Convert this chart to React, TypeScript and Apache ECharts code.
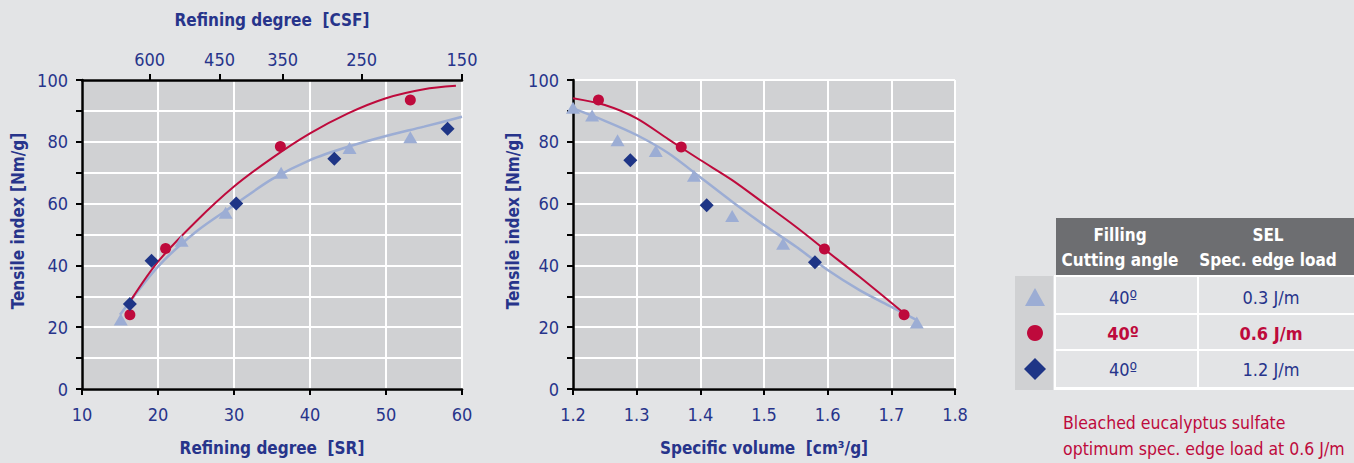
import React, { useEffect, useRef } from "react";
import * as echarts from "echarts";

// ---------- data ----------
const srTicks = [10, 20, 30, 40, 50, 60];
const csfLabels = ["600", "450", "350", "250", "150"];
const csfAtSR = [18.9, 28.1, 36.4, 46.8, 60];

// left chart: SR vs tensile index
const leftTriSR = [15.1, 23.1, 28.9, 36.2, 45.2, 53.2, 60.1];
const leftTriT = [22.5, 48, 57, 70, 78, 81.5, 88.5];
const leftCircSR = [16.3, 21.0, 36.1, 53.2];
const leftCircT = [24, 45.5, 78.5, 93.5];
const leftDiaSR = [16.3, 19.15, 30.3, 43.2, 58.1];
const leftDiaT = [27.5, 41.5, 60, 74.5, 84.2];
const leftRedFitSR = [16.5, 20, 25, 30, 35, 40, 45, 50, 55, 59.2];
const leftRedFitT = [29, 41.2, 54.2, 65.5, 74.7, 82.7, 89.2, 94.1, 97, 98.1];
const leftBlueFitSR = [15, 20, 25, 30, 35, 40, 45, 50, 55, 60];
const leftBlueFitT = [24, 39.6, 50.9, 59.5, 67.9, 74.1, 78.4, 81.9, 84.9, 88.1];

// right chart: specific volume vs tensile index
const rightTriV = [1.2, 1.23, 1.27, 1.33, 1.39, 1.45, 1.53, 1.74];
const rightTriT = [91, 88.5, 80.5, 77, 69, 56, 47, 21.5];
const rightCircV = [1.24, 1.37, 1.595, 1.72];
const rightCircT = [93.5, 78.3, 45.3, 24];
const rightDiaV = [1.29, 1.41, 1.58];
const rightDiaT = [74, 59.5, 41];
const rightRedFitV = [1.2, 1.25, 1.3, 1.35, 1.4, 1.45, 1.5, 1.55, 1.6, 1.65, 1.72];
const rightRedFitT = [94.1, 91.9, 87.6, 80.8, 74.1, 67.6, 60.1, 52.5, 44.4, 36.3, 24.5];
const rightBlueFitV = [1.2, 1.25, 1.3, 1.35, 1.4, 1.45, 1.5, 1.55, 1.6, 1.65, 1.7, 1.74];
const rightBlueFitT = [90.8, 86.8, 82.2, 76.3, 68.5, 60.6, 53.1, 46.1, 38.5, 32, 26.6, 22.3];

// legend table
const tableHeaders = ["Filling\nCutting angle", "SEL\nSpec. edge load"];
const tableAngles = ["40º", "40º", "40º"];
const tableLoads = ["0.3 J/m", "0.6 J/m", "1.2 J/m"];
const footnote = ["Bleached eucalyptus sulfate", "optimum spec. edge load at 0.6 J/m"];

// ---------- styles ----------
const FONT = "'Liberation Sans Narrow', 'DejaVu Sans Condensed', 'Roboto', sans-serif";
const BG = "#e3e4e6";
const PLOT = "#d0d1d3";
const BLUE_TXT = "#27348b";
const RED = "#be0a3c";
const TRI = "#9cadd4";
const DIA = "#1e3586";

const zip = (a: number[], b: number[]) => a.map((v, i) => [v, b[i]]);

export default function App() {
  const ref = useRef<HTMLDivElement>(null);
  useEffect(() => {
    if (!ref.current) return;
    const chart = echarts.init(ref.current, null, { renderer: "svg" });

    const axisLine = { show: true, lineStyle: { color: "#000", width: 2.5 } };
    const axisTick = { show: true, inside: false, length: 6, lineStyle: { color: "#000", width: 2 } };
    const label = { color: BLUE_TXT, fontSize: 18, fontFamily: FONT };
    const split = { show: true, lineStyle: { color: "#fff", width: 2 } };
    const nameStyle = { color: BLUE_TXT, fontSize: 17, fontWeight: "bold" as const, fontFamily: FONT };

    const yAx = (gi: number) => ({
      type: "value",
      gridIndex: gi,
      min: 0,
      max: 100,
      interval: 10,
      axisLine,
      axisTick,
      splitLine: split,
      axisLabel: { ...label, margin: 14, formatter: (v: number) => (v % 20 === 0 ? String(v) : "") },
    });

    const lineSeries = (xi: number, data: number[][], color: string, width: number) => ({
      type: "line",
      xAxisIndex: xi,
      yAxisIndex: xi === 2 ? 1 : 0,
      data,
      smooth: 0.3,
      symbol: "none",
      lineStyle: { color, width },
      z: 2,
      silent: true,
    });
    const scat = (xi: number, data: number[][], symbol: string, size: any, color: string) => ({
      type: "scatter",
      xAxisIndex: xi,
      yAxisIndex: xi === 2 ? 1 : 0,
      data,
      symbol,
      symbolSize: size,
      itemStyle: { color, opacity: 1 },
      z: 3,
    });

    const cellG: any[] = [];
    cellG.push({ type: "rect", shape: { x: 1056, y: 218, width: 298, height: 57 }, style: { fill: "#6d6e71" } });
    cellG.push({ type: "rect", shape: { x: 1015, y: 276, width: 38, height: 114 }, style: { fill: PLOT } });
    cellG.push({ type: "rect", shape: { x: 1054, y: 275, width: 300, height: 115 }, style: { fill: "#fff" } });
    const rowsY = [277, 315, 351];
    const rowsH = [36, 34, 36];
    rowsY.forEach((y, i) => {
      cellG.push({ type: "rect", shape: { x: 1056, y, width: 141, height: rowsH[i] }, style: { fill: BG } });
      cellG.push({ type: "rect", shape: { x: 1199, y, width: 155, height: rowsH[i] }, style: { fill: BG } });
    });
    const hx = [1120, 1268];
    tableHeaders.forEach((t, i) => {
      cellG.push({
        type: "text",
        x: hx[i],
        y: 247.5,
        style: { text: t, fill: "#fff", font: `bold 17px ${FONT}`, align: "center", verticalAlign: "middle", lineHeight: 25 },
      });
    });
    const rowCY = [297, 333, 369];
    rowCY.forEach((cy, i) => {
      const bold = i === 1;
      const col = bold ? RED : BLUE_TXT;
      cellG.push({
        type: "text",
        x: 1123,
        y: cy,
        style: { text: tableAngles[i], fill: col, font: `${bold ? "bold " : ""}18px ${FONT}`, align: "center", verticalAlign: "middle" },
      });
      cellG.push({
        type: "text",
        x: 1271,
        y: cy,
        style: { text: tableLoads[i], fill: col, font: `${bold ? "bold " : ""}18px ${FONT}`, align: "center", verticalAlign: "middle" },
      });
    });
    cellG.push({ type: "polygon", shape: { points: [[1035, 288], [1045, 306], [1025, 306]] }, style: { fill: TRI } });
    cellG.push({ type: "circle", shape: { cx: 1035, cy: 333, r: 8 }, style: { fill: RED } });
    cellG.push({ type: "polygon", shape: { points: [[1035, 358], [1046, 369], [1035, 380], [1024, 369]] }, style: { fill: DIA } });
    footnote.forEach((t, i) => {
      cellG.push({
        type: "text",
        x: 1063,
        y: 423 + i * 26,
        style: { text: t, fill: RED, font: `17.5px ${FONT}`, align: "left", verticalAlign: "middle" },
      });
    });
    [18, 513].forEach((x) => {
      cellG.push({
        type: "text",
        x,
        y: 221,
        rotation: Math.PI / 2,
        style: { text: "Tensile index [Nm/g]", fill: BLUE_TXT, font: `bold 17px ${FONT}`, align: "center", verticalAlign: "middle" },
      });
    });

    chart.setOption({
      animation: false,
      backgroundColor: BG,
      textStyle: { fontFamily: FONT },
      grid: [
        { left: 82, top: 80, width: 380, height: 309, show: true, backgroundColor: PLOT, borderWidth: 0 },
        { left: 573, top: 80, width: 382, height: 309, show: true, backgroundColor: PLOT, borderWidth: 0 },
      ],
      xAxis: [
        {
          type: "value",
          gridIndex: 0,
          min: srTicks[0],
          max: srTicks[srTicks.length - 1],
          interval: 10,
          axisLine,
          axisTick,
          splitLine: split,
          axisLabel: { ...label, margin: 16 },
          name: "Refining degree  [SR]",
          nameLocation: "middle",
          nameGap: 50,
          nameTextStyle: nameStyle,
        },
        {
          type: "value",
          gridIndex: 0,
          position: "top",
          min: srTicks[0],
          max: srTicks[srTicks.length - 1],
          axisLine,
          axisTick: { ...axisTick, customValues: csfAtSR },
          splitLine: { show: false },
          axisLabel: {
            ...label,
            margin: 12,
            customValues: csfAtSR,
            formatter: (v: number) => {
              const i = csfAtSR.findIndex((c) => Math.abs(c - v) < 1e-6);
              return i >= 0 ? csfLabels[i] : "";
            },
          },
          name: "Refining degree  [CSF]",
          nameLocation: "middle",
          nameGap: 52,
          nameTextStyle: nameStyle,
        },
        {
          type: "value",
          gridIndex: 1,
          min: 1.2,
          max: 1.8,
          interval: 0.1,
          axisLine,
          axisTick,
          splitLine: split,
          axisLabel: { ...label, margin: 16, formatter: (v: number) => v.toFixed(1) },
          name: "Specific volume  [cm³/g]",
          nameLocation: "middle",
          nameGap: 50,
          nameTextStyle: nameStyle,
        },
      ],
      yAxis: [yAx(0), yAx(1)],
      series: [
        lineSeries(0, zip(leftBlueFitSR, leftBlueFitT), TRI, 2.5),
        lineSeries(0, zip(leftRedFitSR, leftRedFitT), RED, 2),
        scat(0, zip(leftTriSR, leftTriT), "triangle", [14, 12], TRI),
        scat(0, zip(leftCircSR, leftCircT), "circle", 11, RED),
        scat(0, zip(leftDiaSR, leftDiaT), "diamond", 14, DIA),
        lineSeries(2, zip(rightBlueFitV, rightBlueFitT), TRI, 2.5),
        lineSeries(2, zip(rightRedFitV, rightRedFitT), RED, 2),
        scat(2, zip(rightTriV, rightTriT), "triangle", [14, 12], TRI),
        scat(2, zip(rightCircV, rightCircT), "circle", 11, RED),
        scat(2, zip(rightDiaV, rightDiaT), "diamond", 14, DIA),
      ],
      graphic: cellG,
    });
    return () => chart.dispose();
  }, []);
  return (
    <div
      ref={ref}
      style={{ position: "fixed", left: 0, top: 0, width: 1354, height: 463 }}
    />
  );
}
